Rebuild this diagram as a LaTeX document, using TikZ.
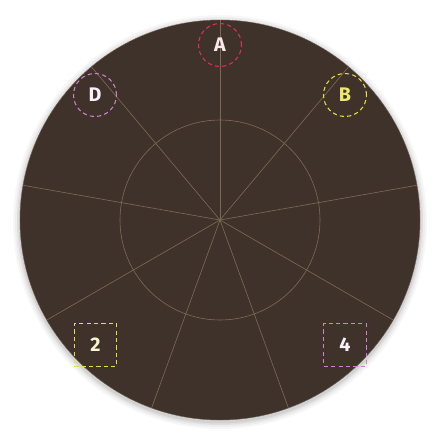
\documentclass[tikz,border=0pt]{standalone}
\usepackage{fontspec}
\setmainfont{Fira Sans}
\definecolor{disc}{HTML}{3E322A}
\definecolor{rimc}{HTML}{6E5C4C}
\definecolor{spoke}{HTML}{806854}
\definecolor{mred}{HTML}{E0305A}
\definecolor{myel}{HTML}{E6E040}
\definecolor{mvio}{HTML}{D27FD8}
\begin{document}
\begin{tikzpicture}[x=0.05cm,y=-0.05cm,
  guide/.style={draw=spoke,line width=0.9pt},
  marker/.style={line width=1.5pt,dash pattern=on 6pt off 4.5pt,inner sep=0pt,
     font=\fontsize{28}{30}\selectfont\bfseries},
  ring/.style={marker,circle,minimum size=2.15cm},
  box/.style={marker,rectangle,minimum width=2.12cm,minimum height=2.12cm}]
\useasboundingbox (0,0) rectangle (440,440);
\fill[white] (0,0) rectangle (440,440);
% soft shadow
\foreach \r/\o in {207/0.03,205/0.04,203/0.05,201.5/0.06}
  \fill[black,opacity=\o] (220,222) circle[radius=\r];
% disc
\fill[disc] (220,220) circle[radius=200];
\draw[rimc,line width=0.6pt] (220,220) circle[radius=200];
\coordinate (c) at (220,220);
\node[circle,guide,minimum size=10cm,inner sep=0pt] (inner) at (c) {};
\foreach \i in {0,...,8}{
  \pgfmathsetmacro\a{90+40*\i}
  \coordinate (r\i) at ({220+200*cos(\a)},{220-200*sin(\a)});
  \draw[guide] (c) -- (r\i);
}
% markers
\node[ring,draw=mred,text=white!88!mred] (A) at (220,45) {A};
\node[ring,draw=myel,text=myel!75!white] (B) at (345,95) {B};
\node[ring,draw=mvio,text=white!88!mvio] (D) at (95,95) {D};
\node[box,draw=myel,text=white!75!myel] (n2) at (95.5,345) {2};
\node[box,draw=mvio,text=white!88!mvio] (n4) at (345,345) {4};
\end{tikzpicture}
\end{document}
